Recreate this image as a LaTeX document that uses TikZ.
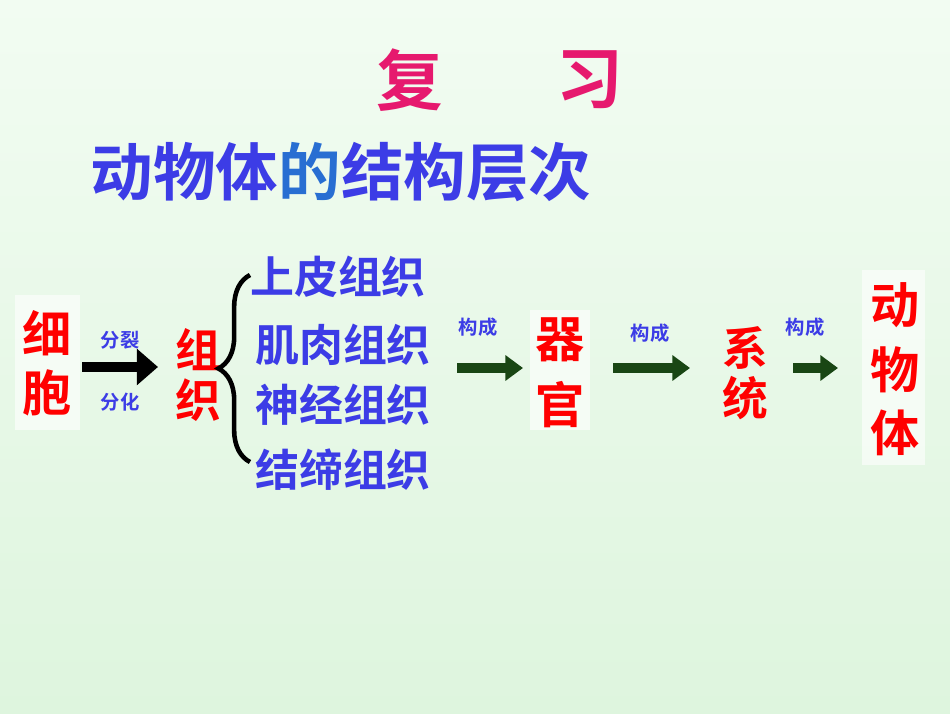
\documentclass[tikz,border=0pt]{standalone}
\usepackage{fontspec}
\setmainfont{Noto Sans CJK SC Bold}
\usetikzlibrary{arrows.meta,decorations.pathreplacing}
\definecolor{bgtop}{RGB}{242,252,242}
\definecolor{bgbot}{RGB}{222,245,222}
\definecolor{tred}{RGB}{255,0,0}
\definecolor{tmag}{RGB}{230,25,110}
\definecolor{tblue}{RGB}{60,60,230}
\definecolor{tteal}{RGB}{40,110,210}
\definecolor{agreen}{RGB}{25,70,20}
\tikzset{
  big/.style={font=\fontsize{14}{14}\selectfont, text=tred, inner sep=0pt},
  mid/.style={font=\fontsize{13}{13}\selectfont, text=tred, inner sep=0pt},
  tis/.style={font=\fontsize{12.5}{13}\selectfont, text=tblue, inner sep=0pt},
  lab/.style={font=\fontsize{5.5}{6}\selectfont, text=tblue, inner sep=0pt},
  garr/.style={-{Triangle[length=5pt,width=7pt]}, line width=2.6pt, agreen},
  wbox/.style={fill=white, fill opacity=0.6, draw=none}
}
\begin{document}
\begin{tikzpicture}[x=1cm,y=1cm]
\shade[top color=bgtop, bottom color=bgbot] (0,0) rectangle (9.5,7.13);
\useasboundingbox (0,0) rectangle (9.5,7.13);
% title
\node[font=\fontsize{19}{19}\selectfont, text=tmag] (t1) at (4.10,6.33) {复};
\node[font=\fontsize{19}{19}\selectfont, text=tmag] (t2) at (5.90,6.33) {习};
\node[font=\fontsize{17.8}{18}\selectfont, text=tblue] (sub) at (3.41,5.41) {动物体{\color{tteal}的}结构层次};
% white boxes
\fill[wbox] (0.15,2.83) rectangle (0.80,4.18);
\fill[wbox] (5.30,2.83) rectangle (5.90,4.03);
\fill[wbox] (8.62,2.48) rectangle (9.25,4.43);
% cells
\node[big] (xi) at (0.47,3.80) {细};
\node[big] (bao) at (0.47,3.20) {胞};
\node[lab] (fl) at (1.20,3.73) {分裂};
\node[lab] (fh) at (1.20,3.11) {分化};
\coordinate (a1s) at (0.82,3.46);
\coordinate (a1e) at (1.58,3.46);
\draw[-{Triangle[length=6pt,width=10pt]}, line width=3pt, black] (a1s) -- (a1e);
\node[mid] (zu) at (1.98,3.63) {组};
\node[mid] (zhi) at (1.98,3.13) {织};
\coordinate (b1) at (2.50,4.38);
\coordinate (b2) at (2.50,2.51);
\draw[decorate, decoration={brace, amplitude=9pt}, line width=1.3pt] (b2) -- (b1);
\node[tis] (s1) at (3.38,4.36) {上皮组织};
\node[tis] (s2) at (3.43,3.68) {肌肉组织};
\node[tis] (s3) at (3.43,3.08) {神经组织};
\node[tis] (s4) at (3.43,2.43) {结缔组织};
% organ
\node[lab] (g1) at (4.78,3.86) {构成};
\coordinate (a2s) at (4.57,3.45);
\coordinate (a2e) at (5.23,3.45);
\draw[garr] (a2s) -- (a2e);
\node[big] (qi) at (5.60,3.73) {器};
\node[big] (guan) at (5.60,3.08) {官};
\node[lab] (g2) at (6.50,3.80) {构成};
\coordinate (a3s) at (6.13,3.45);
\coordinate (a3e) at (6.90,3.45);
\draw[garr] (a3s) -- (a3e);
\node[mid] (xx) at (7.45,3.65) {系};
\node[mid] (tong) at (7.45,3.15) {统};
\node[lab] (g3) at (8.05,3.86) {构成};
\coordinate (a4s) at (7.93,3.45);
\coordinate (a4e) at (8.38,3.45);
\draw[garr] (a4s) -- (a4e);
\node[big] (d1) at (8.95,4.08) {动};
\node[big] (d2) at (8.95,3.43) {物};
\node[big] (d3) at (8.95,2.80) {体};
\end{tikzpicture}
\end{document}
